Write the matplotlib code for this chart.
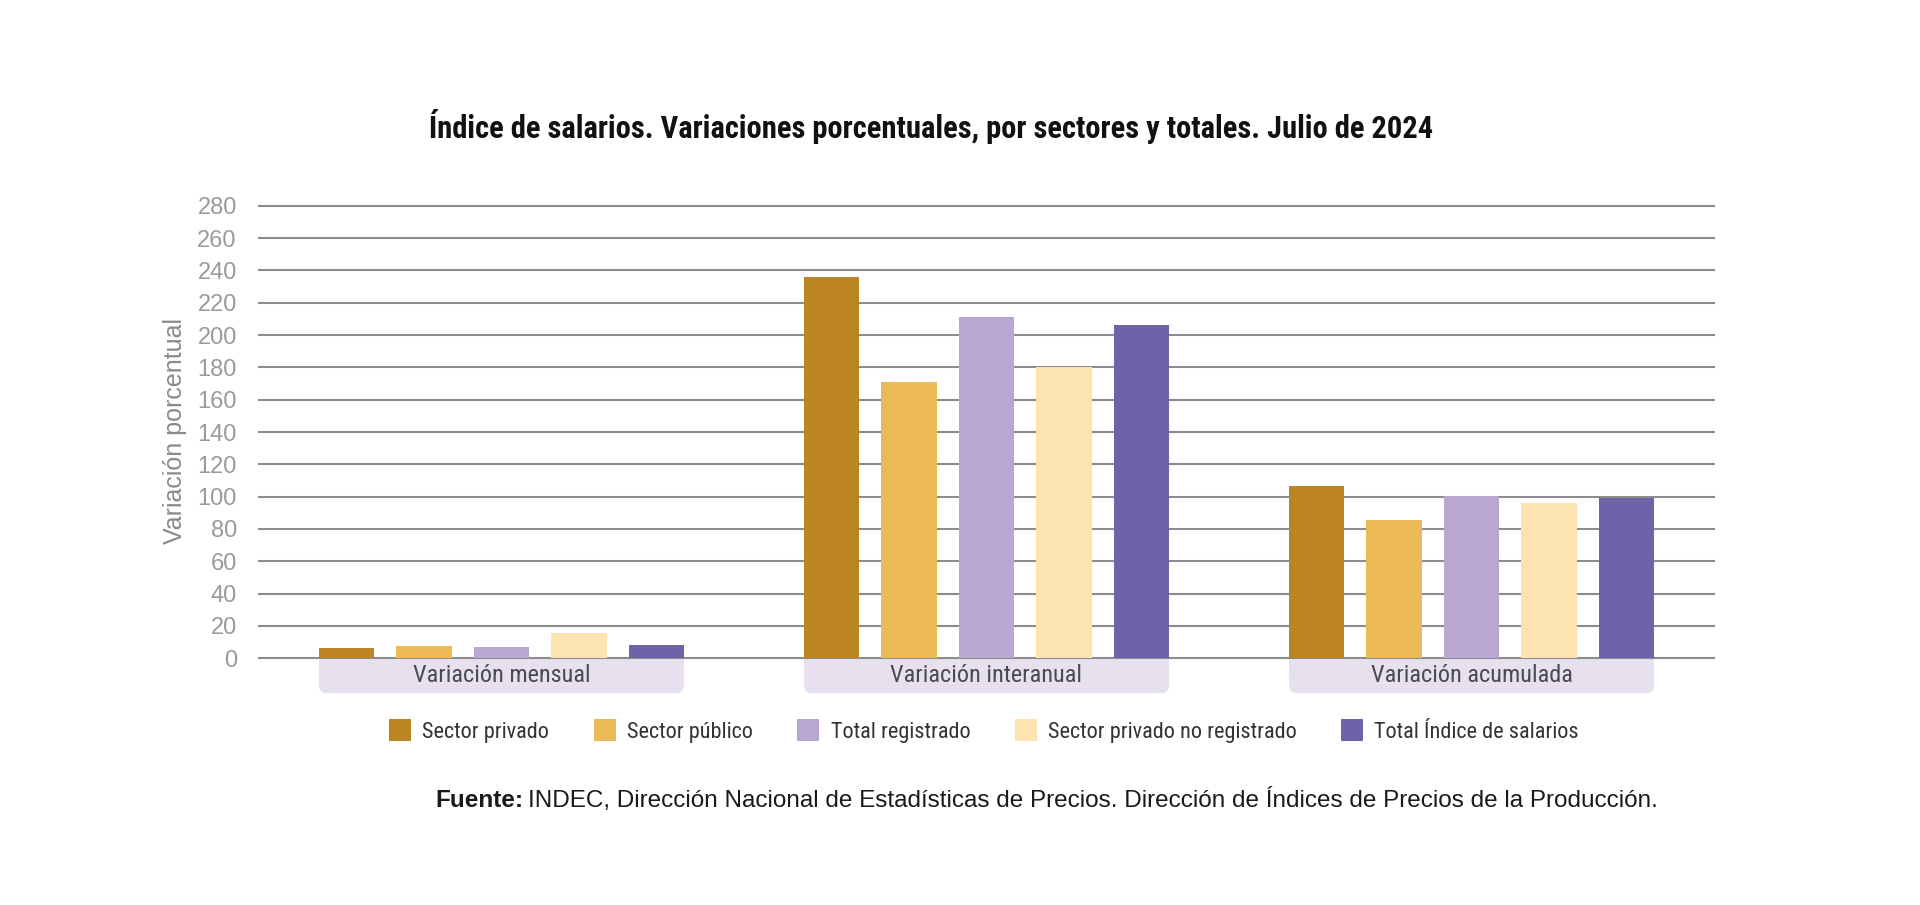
import numpy as np
import matplotlib
matplotlib.use("Agg")
import matplotlib.pyplot as plt
from matplotlib import font_manager
from matplotlib.patches import FancyBboxPatch, Rectangle, Patch

categories = ["Variación mensual", "Variación interanual", "Variación acumulada"]
series = ["Sector privado", "Sector público", "Total registrado",
          "Sector privado no registrado", "Total Índice de salarios"]
sector_privado = [6.4, 236.1, 106.4]
sector_publico = [7.4, 170.7, 85.7]
total_registrado = [7.2, 211.3, 100.4]
privado_no_registrado = [15.7, 180.0, 96.1]
total_indice = [8.0, 206.4, 98.9]
yticks = list(range(0, 281, 20))

colors = ["#BC8423", "#EBB955", "#B9A6D1", "#FDE3B0", "#6E63A8"]


def pick_font(cands):
    names = {f.name for f in font_manager.fontManager.ttflist}
    for c in cands:
        if c in names:
            return c
    return "DejaVu Sans"


narrow = pick_font(["Liberation Sans Narrow", "Arial Narrow", "Roboto Condensed",
                    "Open Sans Condensed", "Liberation Sans"])
regular = pick_font(["Liberation Sans", "Arial", "Roboto"])

fig = plt.figure(figsize=(19.2, 9.05), dpi=100)
ax = fig.add_axes([259 / 1920, 1 - 658.3 / 905, 1455 / 1920, 452.6 / 905])

values = [sector_privado, sector_publico, total_registrado, privado_no_registrado, total_indice]
x = np.arange(len(categories))
step = 0.160
width = 0.114
for i, (vals, col, name) in enumerate(zip(values, colors, series)):
    ax.bar(x + (i - 2) * step, vals, width, color=col, label=name, zorder=3)

ax.set_xlim(-0.5, 2.5)
ax.set_ylim(0, 280)
ax.set_yticks(yticks)
ax.set_yticklabels([str(t) for t in yticks], fontfamily=regular, fontsize=17, color="#9a9a9a")
ax.tick_params(axis="y", length=0, pad=16)
ax.set_xticks([])
for s in ax.spines.values():
    s.set_visible(False)
for t in yticks:
    ax.axhline(t, color="#8c8c8c", lw=1.5, zorder=2, clip_on=False)

# category label boxes under the axis
px_y = 280 / 452.6          # data units per pixel (y)
box_h = 35 * px_y
box_w = 0.753
rs = 8 / 485
for xi, cat in zip(x, categories):
    b = FancyBboxPatch((xi - box_w / 2, -box_h), box_w, box_h,
                       boxstyle=f"round,pad=0,rounding_size={rs}",
                       mutation_aspect=485 * px_y,
                       fc="#E7E1EF", ec="none", clip_on=False, zorder=1)
    ax.add_patch(b)
    ax.add_patch(Rectangle((xi - box_w / 2, -box_h / 2), box_w, box_h / 2,
                           fc="#E7E1EF", ec="none", clip_on=False, zorder=1))
    ax.text(xi, -box_h / 2, cat, ha="center", va="center", fontfamily=narrow,
            fontsize=17.5, color="#4a4a55", clip_on=False, zorder=4)

fig.text(175 / 1920, 1 - 431 / 905, "Variación porcentual", rotation=90,
         ha="center", va="center", fontfamily=regular, fontsize=18, color="#8a8a8a")

fig.text(931 / 1920, 1 - 126 / 905,
         "Índice de salarios. Variaciones porcentuales, por sectores y totales. Julio de 2024",
         ha="center", va="center", fontfamily=narrow, fontweight="bold", fontsize=22, color="#111111")

handles = [Patch(facecolor=c, edgecolor="none") for c in colors]
fig.legend(handles, series, loc="center", bbox_to_anchor=(984 / 1920, 1 - 731 / 905),
           ncol=5, frameon=False, prop={"family": narrow, "size": 16},
           handlelength=1.0, handleheight=1.1, handletextpad=0.5, columnspacing=2.0,
           labelcolor="#333333")

renderer = fig.canvas.get_renderer()
t1 = fig.text(435 / 1920, 1 - 800 / 905, "Fuente:", ha="left", va="center",
              fontfamily=regular, fontweight="bold", fontsize=17.5, color="#1a1a1a")
bb = t1.get_window_extent(renderer)
fig.text((bb.x1 + 5) / 1920, 1 - 800 / 905,
         "INDEC, Dirección Nacional de Estadísticas de Precios. Dirección de Índices de Precios de la Producción.",
         ha="left", va="center", fontfamily=regular, fontsize=17.5, color="#1a1a1a")

fig.savefig("out.png", dpi=100, facecolor="white")
